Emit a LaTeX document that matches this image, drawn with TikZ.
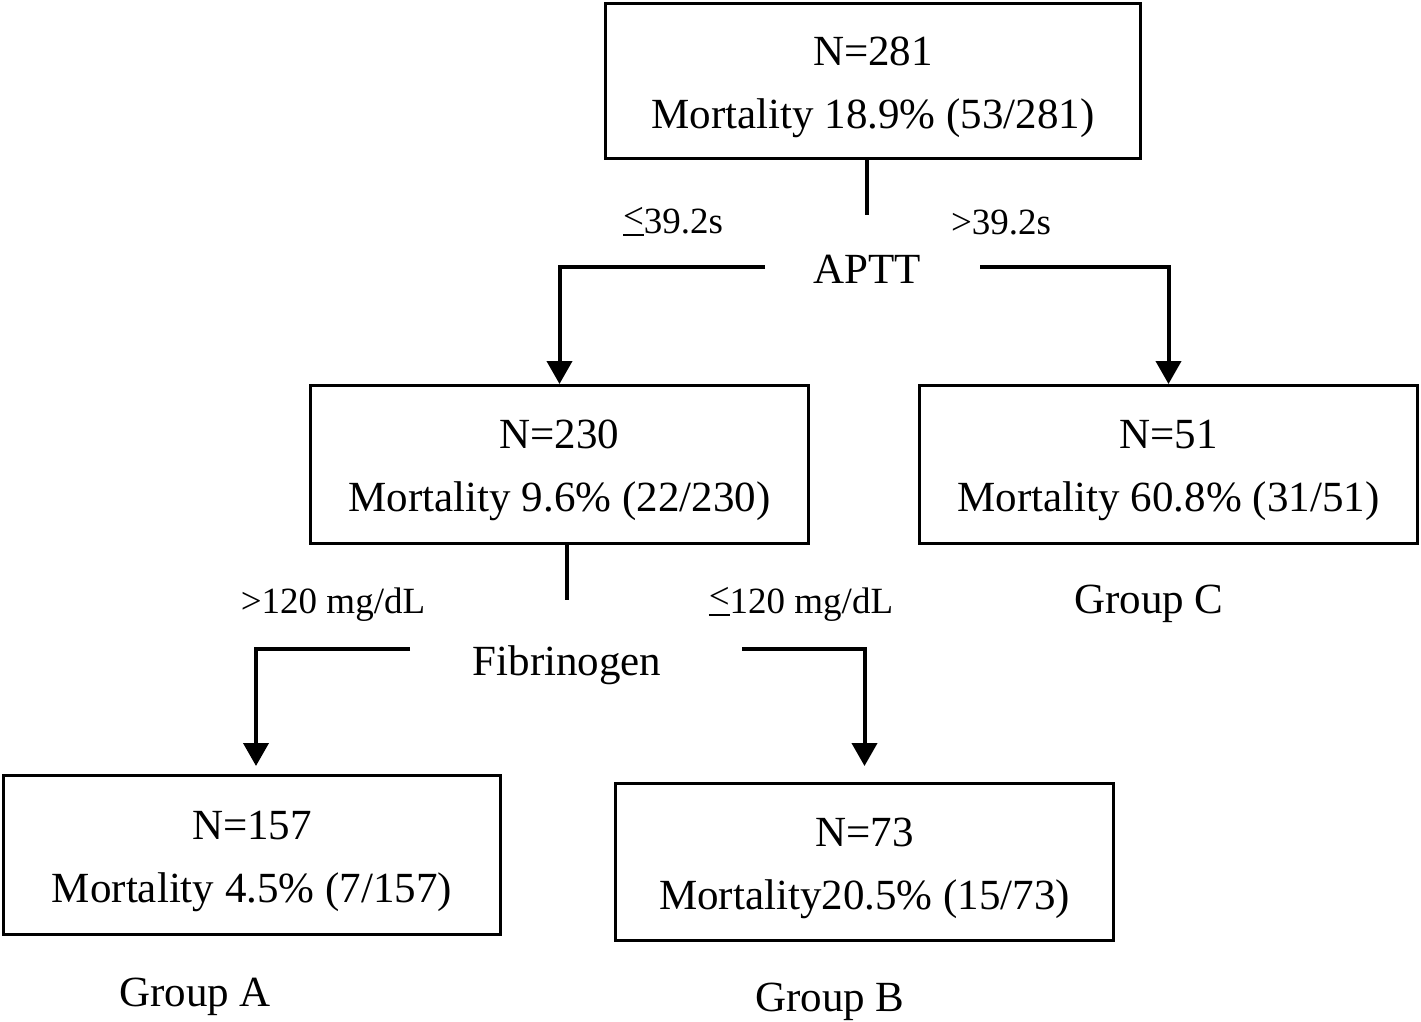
\documentclass[tikz,border=0pt]{standalone}
\usepackage{fontspec}
\setmainfont{Liberation Serif}
\usetikzlibrary{arrows.meta,calc}
\newcommand\leqsym{\makebox[0pt][l]{\raisebox{0.12em}{<}}\rule[-0.07em]{0.564em}{0.055em}}
\begin{document}
\begin{tikzpicture}[x=1pt,y=-1pt,
  box/.style={draw, line width=3pt, rectangle, inner sep=0pt},
  big/.style={font=\fontsize{43}{50}\selectfont, inner sep=0pt, anchor=base},
  small/.style={font=\fontsize{37}{44}\selectfont, inner sep=0pt, anchor=base},
  conn/.style={line width=4pt},
  arr/.style={conn, -{Triangle[width=25pt,length=23pt]}}]
\useasboundingbox (0,0) rectangle (1421,1021);

% boxes
\node[box, minimum width=535pt, minimum height=155pt] (top) at (873,81) {};
\node[big] (topN) at ($(top.center)+(0,-16)$) {N=281};
\node[big] (topM) at ($(top.center)+(0,47)$) {Mortality 18.9\% (53/281)};

\node[box, minimum width=498pt, minimum height=158pt] (midL) at (559.5,464.5) {};
\node[big] (midLN) at ($(midL.center)+(0,-16)$) {N=230};
\node[big] (midLM) at ($(midL.center)+(0,47)$) {Mortality 9.6\% (22/230)};

\node[box, minimum width=498pt, minimum height=158pt] (midR) at (1168.5,464.5) {};
\node[big] (midRN) at ($(midR.center)+(0,-16)$) {N=51};
\node[big] (midRM) at ($(midR.center)+(0,47)$) {Mortality 60.8\% (31/51)};

\node[box, minimum width=497pt, minimum height=159pt] (botL) at (252,855) {};
\node[big] (botLN) at ($(botL.center)+(0,-16)$) {N=157};
\node[big] (botLM) at ($(botL.center)+(0,47)$) {Mortality 4.5\% (7/157)};

\node[box, minimum width=498pt, minimum height=157pt] (botM) at (864.5,862) {};
\node[big] (botMN) at ($(botM.center)+(0,-16)$) {N=73};
\node[big] (botMM) at ($(botM.center)+(0,47)$) {Mortality20.5\% (15/73)};

% split variables
\node[big] (aptt) at (867,283) {APTT};
\node[big] (fib) at (567,675) {Fibrinogen};

% connectors
\coordinate (t1) at (867,215);
\coordinate (aL) at (765,267);
\coordinate (aR) at (980,267);
\draw[conn] (top.south -| t1) -- (t1);
\draw[arr] (aL) -| (midL.north);
\draw[arr] (aR) -| (midR.north);

\coordinate (f1) at (567,600);
\coordinate (fL) at (410,649);
\coordinate (fR) at (742,649);
\draw[conn] (midL.south -| f1) -- (f1);
\draw[arr, shorten >=8pt] (fL) -| ([xshift=4pt]botL.north);
\draw[arr, shorten >=16pt] (fR) -| (botM.north);

% branch labels
\node[small] (l1) at (673,233) {\leqsym39.2s};
\node[small] (l2) at (1001,234) {>39.2s};
\node[small] (l3) at (333,613) {>120 mg/dL};
\node[small] (l4) at (801,613) {\leqsym120 mg/dL};

% group labels
\node[big] (gC) at (1149,613) {Group C};
\node[big] (gA) at (195,1006) {Group A};
\node[big] (gB) at (830,1011) {Group B};
\end{tikzpicture}
\end{document}
